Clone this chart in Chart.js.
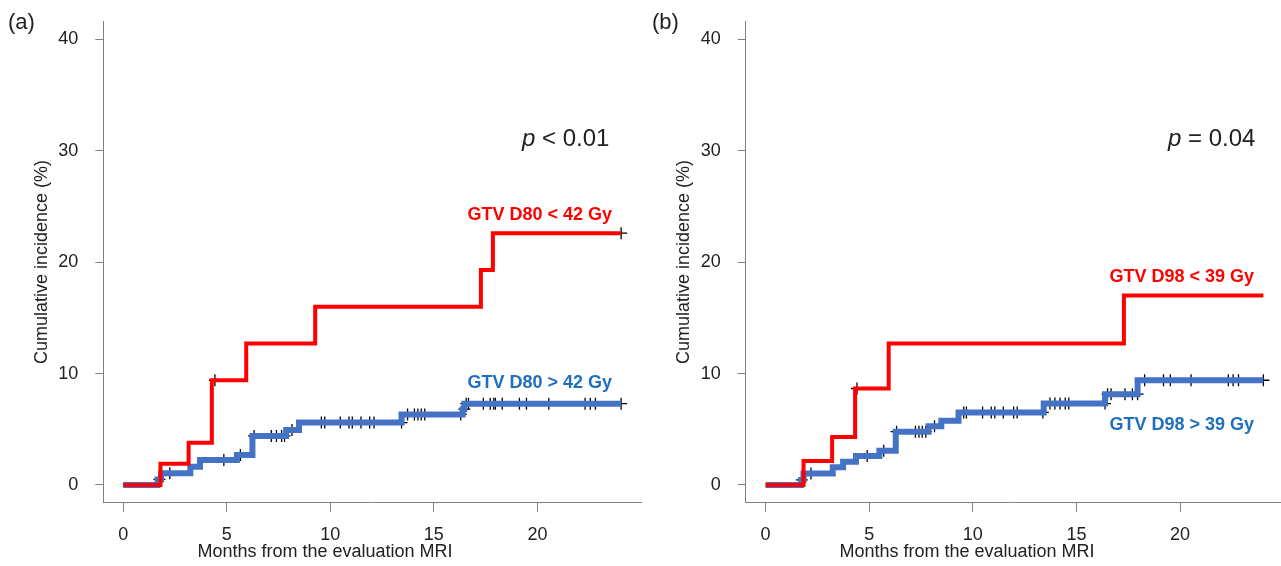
<!DOCTYPE html>
<html>
<head>
<meta charset="utf-8">
<script src="https://cdn.jsdelivr.net/npm/chart.js@4.4.1/dist/chart.umd.min.js"></script>
<style>
  html, body { margin: 0; padding: 0; background: #fff; }
  body { width: 1281px; height: 566px; position: relative; overflow: hidden; }
  .panel { position: absolute; top: 0; }
</style>
</head>
<body>
<div class="panel" style="left:0"><canvas id="chartA" width="642" height="566"></canvas></div>
<div class="panel" style="left:642px"><canvas id="chartB" width="639" height="566"></canvas></div>
<script>
const xTicks = [0, 5, 10, 15, 20];
const yTicks = [0, 10, 20, 30, 40];

// (a) GTV D80 groups: step times (months) and cumulative incidence (%)
const lowD80Times = [0, 1.8, 3.16, 4.28, 5.94, 9.27, 17.27, 17.85, 24.04];
const lowD80Risk = [0, 1.9, 3.8, 9.4, 12.7, 16.0, 19.3, 22.6, 22.6];
const lowD80Censor = [4.43, 24.04];

const highD80Times = [0, 1.66, 1.83, 3.24, 3.71, 5.49, 6.24, 7.87, 8.49, 13.44, 16.39, 16.47, 24.04];
const highD80Risk = [0, 0.5, 1.05, 1.64, 2.24, 2.7, 4.4, 4.93, 5.6, 6.33, 6.8, 7.3, 7.3];
const highD80Censor = [1.75, 2.25, 4.86, 5.66, 6.32, 7.15, 7.4, 7.65, 7.79, 8.15, 9.57, 9.73, 10.48,
  10.9, 11.06, 11.48, 11.9, 12.11, 13.44, 13.73, 14.06, 14.23, 14.39, 14.56, 16.3, 16.47, 16.56,
  16.67, 17.39, 17.72, 17.89, 17.97, 18.3, 19.13, 19.47, 20.55, 22.3, 22.55, 22.8, 24.04];

// (b) GTV D98 groups
const lowD98Times = [0, 1.83, 3.21, 4.32, 5.94, 17.29, 24.02];
const lowD98Risk = [0, 2.15, 4.3, 8.66, 12.7, 17.0, 17.0];
const lowD98Censor = [4.41];

const highD98Times = [0, 1.71, 1.83, 3.24, 3.74, 4.36, 5.49, 6.28, 7.86, 8.48, 9.31, 13.42, 16.38, 17.95, 24.02];
const highD98Risk = [0, 0.45, 1.04, 1.58, 2.09, 2.6, 3.07, 4.78, 5.28, 5.76, 6.51, 7.31, 8.15, 9.4, 9.4];
const highD98Censor = [1.75, 2.19, 4.9, 5.7, 6.32, 7.23, 7.4, 7.56, 7.73, 8.15, 9.56, 9.69, 10.47,
  10.89, 11.06, 11.47, 11.97, 12.14, 13.38, 13.72, 13.96, 14.21, 14.46, 14.63, 16.38, 16.5, 16.67,
  17.34, 17.7, 17.95, 18.29, 19.2, 19.53, 20.53, 22.33, 22.56, 22.82, 24.02];

const FONT = "'Liberation Sans', Arial, sans-serif";
const RED = '#ff0000';
const BLUE = '#4472c4';
const BLUE_TEXT = '#1f6fc1';
const AXIS = '#808080';
const INK = '#222';

const stepPoints = (times, risk) => times.map((t, i) => ({ x: t, y: risk[i] }));

// a censor mark sits on the level reached before its time
const censorPoints = (censor, times, risk) => censor.map(t => {
  let y = risk[0];
  times.forEach((s, i) => { if (s < t) y = risk[i]; });
  return { x: t, y };
});

const curve = (data, color, width) => ({
  type: 'line', data, borderColor: color, borderWidth: width,
  stepped: 'before', pointRadius: 0, fill: false
});

const marks = data => ({
  type: 'scatter', data, pointStyle: 'cross', pointRadius: 6,
  borderColor: '#000', borderWidth: 1.3, backgroundColor: '#000'
});

const panelText = (p) => ({
  id: 'panelText',
  afterDraw(chart) {
    const ctx = chart.ctx;
    ctx.save();
    ctx.fillStyle = INK;
    ctx.textBaseline = 'alphabetic';

    ctx.font = `22px ${FONT}`;
    ctx.textAlign = 'left';
    ctx.fillText(p.letter, p.letterX, 29);

    // p value, italic p
    ctx.font = `italic 24px ${FONT}`;
    ctx.fillText('p', p.pX, 146);
    const w = ctx.measureText('p').width;
    ctx.font = `24px ${FONT}`;
    ctx.fillText(p.pRest, p.pX + w, 146);

    // group labels
    ctx.font = `bold 18px ${FONT}`;
    ctx.textAlign = 'right';
    ctx.fillStyle = RED;
    ctx.fillText(p.lowLabel, 612, p.lowY);
    ctx.fillStyle = BLUE_TEXT;
    ctx.fillText(p.highLabel, 612, p.highY);

    // axis titles
    ctx.fillStyle = INK;
    ctx.font = `18px ${FONT}`;
    ctx.textAlign = 'center';
    ctx.fillText('Months from the evaluation MRI', p.xTitleX, 557);
    ctx.translate(p.yTitleX, 262);
    ctx.rotate(-Math.PI / 2);
    ctx.textBaseline = 'middle';
    ctx.fillText('Cumulative incidence (%)', 0, 0);
    ctx.restore();
  }
});

function makePanel(id, sets, p) {
  return new Chart(document.getElementById(id), {
    data: {
      datasets: [
        curve(stepPoints(sets.lowTimes, sets.lowRisk), RED, 4),
        curve(stepPoints(sets.highTimes, sets.highRisk), BLUE, 6),
        marks(censorPoints(sets.lowCensor, sets.lowTimes, sets.lowRisk)),
        marks(censorPoints(sets.highCensor, sets.highTimes, sets.highRisk))
      ]
    },
    options: {
      responsive: false,
      animation: false,
      layout: { autoPadding: false, padding: { top: 21.5, right: p.rightPad, left: 0, bottom: 0 } },
      plugins: { legend: { display: false }, tooltip: { enabled: false } },
      scales: {
        x: {
          type: 'linear', bounds: 'data', min: -0.96, max: p.xMax,
          afterBuildTicks: axis => { axis.ticks = xTicks.map(v => ({ value: v })); },
          afterFit: axis => {
            axis.height = 63.2;
            axis.paddingLeft = 0;
            axis.paddingRight = 0;
          },
          grid: { drawOnChartArea: false, tickLength: 9, color: AXIS },
          border: { display: true, color: AXIS },
          ticks: { font: { family: FONT, size: 18 }, color: INK, padding: 12, maxRotation: 0 }
        },
        y: {
          type: 'linear', bounds: 'data', min: -1.6, max: 41.6,
          afterBuildTicks: axis => { axis.ticks = yTicks.map(v => ({ value: v })); },
          afterFit: axis => {
            axis.width = p.yWidth;
            axis.paddingTop = 0;
            axis.paddingBottom = 0;
          },
          grid: { drawOnChartArea: false, tickLength: 8, color: AXIS },
          border: { display: true, color: AXIS },
          ticks: { font: { family: FONT, size: 18 }, color: INK, padding: 17 }
        }
      }
    },
    plugins: [panelText(p)]
  });
}

makePanel('chartA', {
  lowTimes: lowD80Times, lowRisk: lowD80Risk, lowCensor: lowD80Censor,
  highTimes: highD80Times, highRisk: highD80Risk, highCensor: highD80Censor
}, {
  letter: '(a)', letterX: 8, pX: 522, pRest: ' < 0.01',
  lowLabel: 'GTV D80 < 42 Gy', lowY: 220, highLabel: 'GTV D80 > 42 Gy', highY: 388,
  xTitleX: 325, yTitleX: 42, xMax: 25.0, rightPad: 1, yWidth: 103.3
});

makePanel('chartB', {
  lowTimes: lowD98Times, lowRisk: lowD98Risk, lowCensor: lowD98Censor,
  highTimes: highD98Times, highRisk: highD98Risk, highCensor: highD98Censor
}, {
  letter: '(b)', letterX: 10, pX: 526, pRest: ' = 0.04',
  lowLabel: 'GTV D98 < 39 Gy', lowY: 282, highLabel: 'GTV D98 > 39 Gy', highY: 430,
  xTitleX: 325, yTitleX: 42, xMax: 24.87, rightPad: 0, yWidth: 103.7
});
</script>
</body>
</html>
